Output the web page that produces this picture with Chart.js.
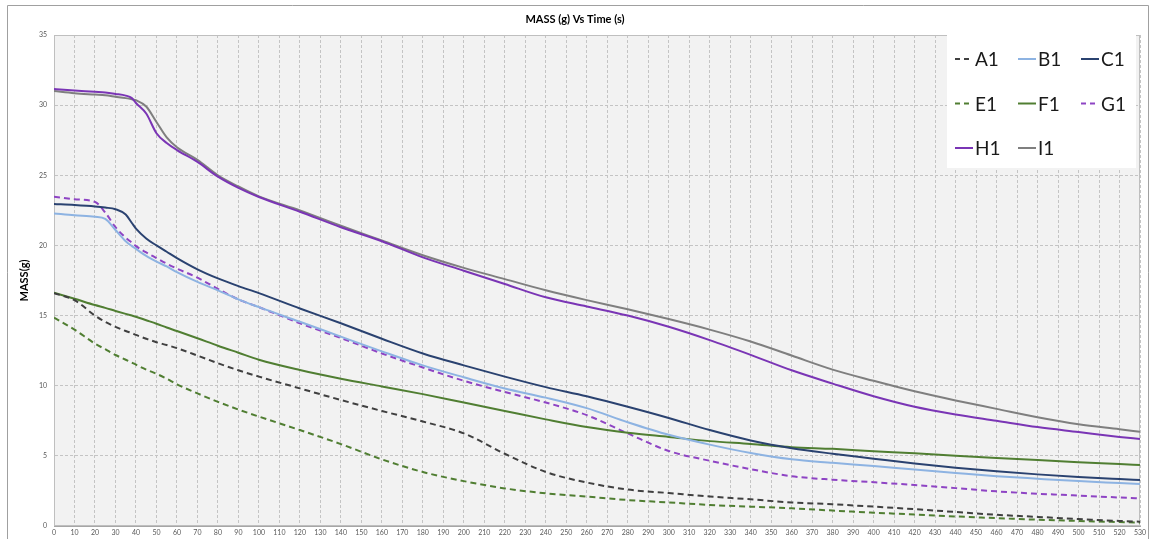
<!DOCTYPE html>
<html>
<head>
<meta charset="utf-8">
<script src="https://cdn.jsdelivr.net/npm/chart.js@4.4.0/dist/chart.umd.min.js"></script>
<style>
body { margin: 0; background: #fff; }
</style>
</head>
<body>
<canvas id="grafica" width="1153" height="539"></canvas>
<script>
// tiempo (s)
var tiempos = [0, 10, 20, 25, 30, 35, 38, 40, 45, 50, 55, 60, 70, 80, 90, 100, 120, 140, 160, 180, 200, 220, 240, 260, 280, 300, 320, 340, 360, 380, 400, 420, 440, 460, 480, 500, 520, 530];

// masa (g) de cada muestra
var a1 = [16.6, 16.1, 15.0, 14.55, 14.2, 13.9, 13.75, 13.62, 13.35, 13.1, 12.9, 12.68, 12.15, 11.6, 11.1, 10.65, 9.81, 8.98, 8.2, 7.45, 6.6, 5.15, 3.85, 3.1, 2.6, 2.35, 2.1, 1.9, 1.68, 1.55, 1.38, 1.2, 1.0, 0.8, 0.65, 0.5, 0.36, 0.31];
var b1 = [22.28, 22.15, 22.05, 21.9, 21.1, 20.3, 19.95, 19.75, 19.25, 18.85, 18.5, 18.1, 17.4, 16.8, 16.15, 15.6, 14.56, 13.5, 12.45, 11.45, 10.6, 9.8, 9.15, 8.4, 7.4, 6.5, 5.8, 5.2, 4.75, 4.5, 4.27, 4.02, 3.78, 3.55, 3.37, 3.2, 3.06, 2.99];
var c1 = [22.95, 22.88, 22.78, 22.7, 22.58, 22.2, 21.6, 21.2, 20.5, 20.0, 19.55, 19.1, 18.3, 17.65, 17.1, 16.6, 15.5, 14.45, 13.35, 12.3, 11.45, 10.65, 9.9, 9.25, 8.5, 7.7, 6.84, 6.1, 5.55, 5.15, 4.8, 4.45, 4.15, 3.9, 3.68, 3.5, 3.35, 3.28];
var e1 = [14.85, 14.0, 13.0, 12.6, 12.19, 11.85, 11.65, 11.5, 11.15, 10.85, 10.5, 10.1, 9.45, 8.85, 8.3, 7.8, 6.84, 5.84, 4.75, 3.85, 3.2, 2.68, 2.33, 2.1, 1.85, 1.68, 1.5, 1.38, 1.26, 1.1, 0.95, 0.82, 0.68, 0.56, 0.45, 0.36, 0.28, 0.24];
var f1 = [16.63, 16.2, 15.75, 15.55, 15.33, 15.12, 15.0, 14.92, 14.67, 14.42, 14.15, 13.9, 13.38, 12.85, 12.35, 11.85, 11.12, 10.5, 9.95, 9.4, 8.8, 8.2, 7.6, 7.05, 6.65, 6.35, 6.05, 5.85, 5.62, 5.5, 5.33, 5.18, 5.0, 4.85, 4.7, 4.55, 4.42, 4.35];
var g1 = [23.47, 23.3, 23.1, 22.35, 21.3, 20.55, 20.2, 19.95, 19.5, 19.1, 18.7, 18.35, 17.7, 16.9, 16.15, 15.6, 14.45, 13.4, 12.3, 11.3, 10.35, 9.55, 8.8, 7.9, 6.6, 5.35, 4.65, 4.05, 3.55, 3.3, 3.12, 2.92, 2.7, 2.47, 2.3, 2.17, 2.03, 1.97];
var h1 = [31.15, 31.05, 30.95, 30.9, 30.8, 30.68, 30.5, 30.15, 29.4, 28.0, 27.3, 26.8, 25.95, 24.9, 24.1, 23.45, 22.4, 21.3, 20.3, 19.15, 18.2, 17.25, 16.3, 15.65, 15.0, 14.2, 13.25, 12.2, 11.1, 10.15, 9.25, 8.5, 7.95, 7.5, 7.05, 6.7, 6.35, 6.2];
var i1 = [31.0, 30.85, 30.75, 30.7, 30.6, 30.5, 30.42, 30.35, 29.9, 28.8, 27.7, 27.0, 26.1, 25.0, 24.2, 23.5, 22.5, 21.4, 20.35, 19.3, 18.4, 17.6, 16.8, 16.1, 15.45, 14.75, 14.0, 13.15, 12.15, 11.15, 10.35, 9.6, 8.95, 8.35, 7.75, 7.25, 6.9, 6.72];

var etiquetas = ['A1', 'B1', 'C1', 'E1', 'F1', 'G1', 'H1', 'I1'];
var series = [a1, b1, c1, e1, f1, g1, h1, i1];
var colores = ['#404040', '#8db3e2', '#2a4270', '#507e32', '#507e32', '#8e44c4', '#7a35b5', '#7f7f7f'];
var guiones = [[6, 4], [], [], [6, 4], [], [6, 4], [], []];

function puntos(serie) {
    return tiempos.map(function (t, i) { return { x: t, y: serie[i] }; });
}

var datasets = etiquetas.map(function (nombre, k) {
    return {
        label: nombre,
        data: puntos(series[k]),
        borderColor: colores[k],
        backgroundColor: colores[k],
        borderDash: guiones[k],
        borderWidth: 2,
        pointRadius: 0,
        cubicInterpolationMode: 'monotone',
        fill: false
    };
});

// fondo gris del area y marcos
var fondo = {
    id: 'fondo',
    beforeDraw: function (chart) {
        var c = chart.ctx, a = chart.chartArea;
        c.save();
        c.fillStyle = '#f2f2f2';
        c.fillRect(a.left, a.top, a.right - a.left, a.bottom - a.top);
        c.strokeStyle = '#a0a0a0';
        c.lineWidth = 1;
        c.beginPath();
        c.moveTo(7.5, 539);
        c.lineTo(7.5, 5.5);
        c.lineTo(1148.5, 5.5);
        c.lineTo(1148.5, 539);
        c.stroke();
        c.restore();
    },
    beforeDatasetsDraw: function (chart) {
        var c = chart.ctx, a = chart.chartArea;
        c.save();
        c.strokeStyle = '#bfbfbf';
        c.lineWidth = 1;
        c.strokeRect(a.left + 0.5, a.top + 0.5, a.right - a.left - 1, a.bottom - a.top - 1);
        c.restore();
    }
};

// leyenda dentro del grafico, 3 columnas
var leyenda = {
    id: 'leyenda',
    afterDraw: function (chart) {
        var c = chart.ctx;
        c.save();
        c.fillStyle = '#ffffff';
        c.fillRect(947, 33, 189, 135);
        c.font = '19px Lato';
        c.textBaseline = 'middle';
        chart.data.datasets.forEach(function (ds, k) {
            var col = k % 3, fila = Math.floor(k / 3);
            var x = 955 + col * 63, y = 59 + fila * 44.5;
            c.strokeStyle = ds.borderColor;
            c.lineWidth = 2;
            c.setLineDash(ds.borderDash.length ? [5, 4] : []);
            c.beginPath();
            c.moveTo(x, y);
            c.lineTo(x + 18, y);
            c.stroke();
            c.setLineDash([]);
            c.fillStyle = '#1a1a1a';
            c.fillText(ds.label, x + 20, y + 1);
        });
        c.restore();
    }
};

var ctx = document.getElementById('grafica').getContext('2d');
var grafica = new Chart(ctx, {
    type: 'line',
    data: { datasets: datasets },
    plugins: [fondo, leyenda],
    options: {
        responsive: false,
        animation: false,
        devicePixelRatio: 1,
        layout: { padding: { left: 10, right: 13, top: 0, bottom: 0 } },
        plugins: {
            legend: { display: false },
            tooltip: { enabled: false },
            title: {
                display: true,
                text: 'MASS (g) Vs Time (s)',
                color: '#000',
                font: { family: 'Lato', size: 11, weight: 'bold' },
                padding: { top: 13, bottom: 8.8 }
            }
        },
        scales: {
            x: {
                type: 'linear',
                min: 0,
                max: 530,
                afterFit: function (s) { s.height = 13; },
                ticks: { stepSize: 10, autoSkip: false, maxRotation: 0, color: '#595959', font: { family: 'Lato', size: 7 }, padding: 3 },
                grid: { color: '#c4c4c4', drawTicks: false },
                border: { color: '#a6a6a6', dash: [3, 2] }
            },
            y: {
                min: 0,
                max: 35,
                afterFit: function (s) { s.width = 44; },
                ticks: { stepSize: 5, color: '#595959', font: { family: 'Lato', size: 7 }, padding: 7 },
                grid: { color: '#c4c4c4', drawTicks: false },
                border: { color: '#a6a6a6', dash: [3, 2] },
                title: {
                    display: true,
                    text: 'MASS(g)',
                    color: '#000',
                    font: { family: 'Lato', size: 11, weight: 'bold' },
                    padding: { top: 8, bottom: 0 }
                }
            }
        }
    }
});
</script>
</body>
</html>
